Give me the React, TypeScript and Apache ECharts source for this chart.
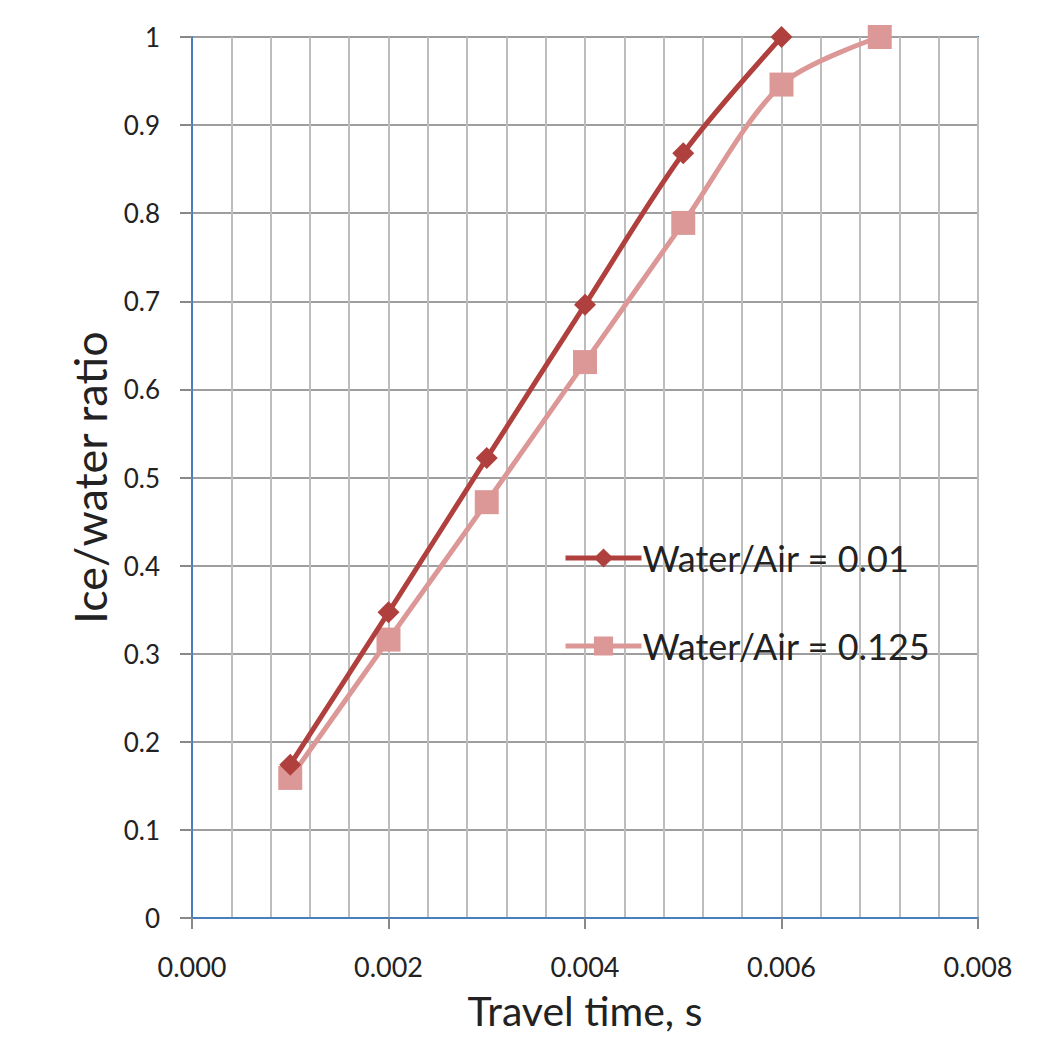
import React, { useEffect, useRef } from "react";
import * as echarts from "echarts";

const travelTime = [0.001, 0.002, 0.003, 0.004, 0.005, 0.006, 0.007];
const ratioLow = [0.174, 0.347, 0.522, 0.696, 0.868, 1.0];
const ratioHigh = [0.159, 0.316, 0.472, 0.631, 0.789, 0.946, 1.0];
const seriesNames = ["Water/Air = 0.01", "Water/Air = 0.125"];

const FONT = "Lato, 'Open Sans', sans-serif";

export default function App() {
  const ref = useRef<HTMLDivElement>(null);
  useEffect(() => {
    const chart = echarts.init(ref.current!, null, { renderer: "svg" });
    chart.setOption({
      animation: false,
      backgroundColor: "#ffffff",
      grid: {
        left: 192,
        right: 83,
        top: 37,
        bottom: 120,
        show: true,
        borderColor: "#4A7EBB",
        borderWidth: 2,
        outerBoundsMode: "none",
        containLabel: false,
      },
      legend: {
        orient: "vertical",
        left: 558,
        top: 535,
        itemWidth: 76,
        itemHeight: 24,
        itemGap: 52,
        lineStyle: { width: 5 },
        textStyle: { fontFamily: FONT, fontSize: 36, color: "#222", padding: [0, 0, 0, -4] },
        data: seriesNames,
      },
      xAxis: {
        type: "value",
        min: 0,
        max: 0.008,
        interval: 0.002,
        name: "Travel time, s",
        nameLocation: "middle",
        nameGap: 70,
        nameTextStyle: { fontFamily: FONT, fontSize: 41, color: "#222", lineHeight: 44 },
        axisLine: { show: true, lineStyle: { color: "#4A7EBB", width: 2 } },
        axisTick: { show: true, length: 11, lineStyle: { color: "#888", width: 2 } },
        minorTick: { show: false, splitNumber: 5 },
        axisLabel: {
          margin: 35,
          fontFamily: FONT,
          fontSize: 27,
          color: "#222",
          formatter: (v: number) => v.toFixed(3),
        },
        splitLine: { show: true, lineStyle: { color: "#BDBDBD", width: 2 } },
        minorSplitLine: { show: true, lineStyle: { color: "#BDBDBD", width: 2 } },
      },
      yAxis: {
        type: "value",
        min: 0,
        max: 1,
        interval: 0.1,
        name: "Ice/water ratio",
        nameLocation: "middle",
        nameGap: 80,
        nameTextStyle: { fontFamily: FONT, fontSize: 45, color: "#222" },
        axisLine: { show: true, lineStyle: { color: "#4A7EBB", width: 2 } },
        axisTick: { show: true, length: 12, lineStyle: { color: "#888", width: 2 } },
        axisLabel: {
          margin: 32,
          fontFamily: FONT,
          fontSize: 26,
          color: "#222",
          formatter: (v: number) => String(Math.round(v * 10) / 10),
        },
        splitLine: { show: true, lineStyle: { color: "#9E9E9E", width: 2 } },
      },
      series: [
        {
          name: seriesNames[0],
          type: "line",
          smooth: 0.3,
          data: ratioLow.map((v, i) => [travelTime[i], v]),
          symbol: "diamond",
          symbolSize: 22,
          lineStyle: { color: "#B0403D", width: 5 },
          itemStyle: { color: "#B0403D" },
          z: 3,
        },
        {
          name: seriesNames[1],
          type: "line",
          smooth: 0.3,
          data: ratioHigh.map((v, i) => [travelTime[i], v]),
          symbol: "rect",
          symbolSize: 24,
          lineStyle: { color: "#DC9896", width: 5 },
          itemStyle: { color: "#DC9896" },
          z: 2,
        },
      ],
    });
    return () => chart.dispose();
  }, []);
  return (
    <div
      ref={ref}
      style={{ position: "fixed", left: 0, top: 0, width: 1061, height: 1038 }}
    />
  );
}
